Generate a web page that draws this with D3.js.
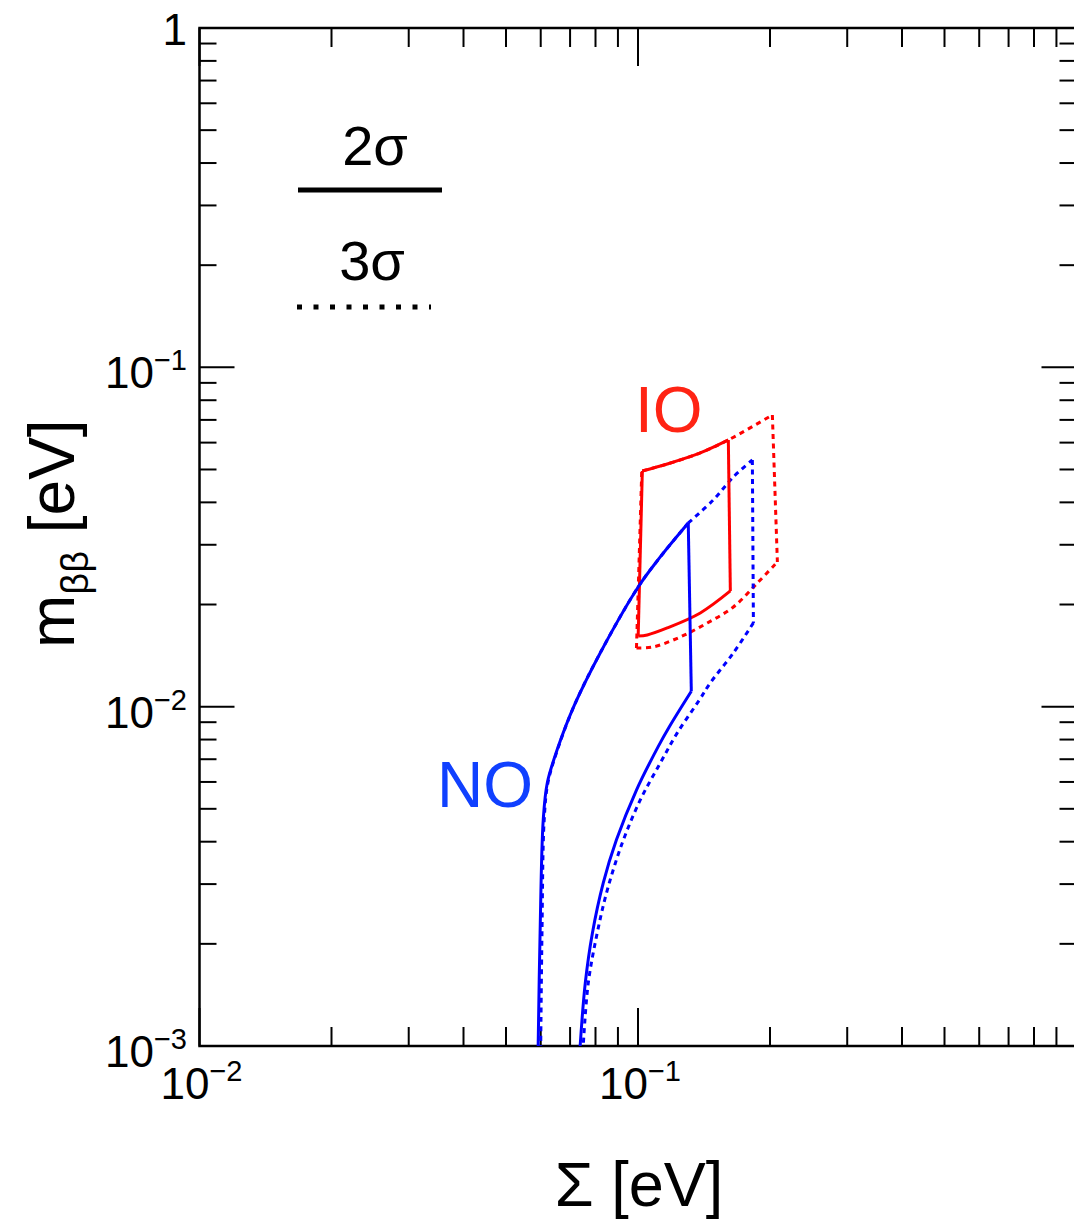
<!DOCTYPE html>
<html>
<meta charset="utf-8">
<style>
  body { margin: 0; background: #fff; }
  svg text { font-family: "Liberation Sans", Arial, Helvetica, sans-serif; }
</style>
<body>
<script src="https://d3js.org/d3.v7.min.js"></script>
<script>
  // ---- data (Σ in eV, mββ in eV) ----

  // NO: upper edge (max mββ), ordered from top corner down to mββ = 1e-3
  const noEdge2Sum = [0.1302, 0.1124, 0.1001, 0.0820, 0.0716, 0.0654, 0.0621, 0.0608, 0.0598, 0.0592];
  const noEdge2Mbb = [0.03478, 0.02762, 0.02253, 0.0144, 0.0101, 0.00746, 0.00596, 0.00464, 0.00215, 0.001];
  const noEdge3Sum = [0.1302, 0.1124, 0.1001, 0.0820, 0.0716, 0.0655, 0.0623, 0.0611, 0.0604, 0.0600];
  const noEdge3Mbb = [0.03478, 0.02762, 0.02253, 0.0144, 0.0101, 0.00746, 0.00596, 0.00464, 0.00215, 0.001];
  // NO 2σ: right edge and lower edge
  const noRight2Sum = [0.1302, 0.1323];
  const noRight2Mbb = [0.03478, 0.0111];
  const noLow2Sum = [0.1323, 0.1178, 0.1111, 0.0992, 0.0893, 0.0833, 0.0787, 0.0758, 0.0738];
  const noLow2Mbb = [0.0111, 0.00871, 0.00761, 0.00568, 0.00405, 0.00302, 0.00215, 0.00153, 0.001];
  // NO 3σ: upper continuation, right edge, lower edge
  const noTop3Sum = [0.1302, 0.1485, 0.1650, 0.1823];
  const noTop3Mbb = [0.03478, 0.04066, 0.04753, 0.05335];
  const noRight3Sum = [0.1823, 0.1833];
  const noRight3Mbb = [0.05335, 0.01765];
  const noLow3Sum = [0.1833, 0.1650, 0.1461, 0.1380, 0.1229, 0.1124, 0.1012, 0.0921, 0.0851, 0.0807, 0.0770, 0.0750];
  const noLow3Mbb = [0.01765, 0.0144, 0.01174, 0.01046, 0.00837, 0.00682, 0.00531, 0.00397, 0.00288, 0.00215, 0.00153, 0.001];

  // IO 2σ box
  const ioTop2Sum = [0.1023, 0.1166, 0.1387, 0.1607];
  const ioTop2Mbb = [0.04951, 0.05190, 0.05594, 0.06109];
  const ioRight2Sum = [0.1607, 0.1624];
  const ioRight2Mbb = [0.06109, 0.02193];
  const ioLow2Sum = [0.1001, 0.1050, 0.1166, 0.1387, 0.1624];
  const ioLow2Mbb = [0.01616, 0.01627, 0.01706, 0.01889, 0.02193];
  const ioLeft2Sum = [0.1001, 0.1023];
  const ioLeft2Mbb = [0.01616, 0.04951];
  // IO 3σ box
  const ioTop3Sum = [0.1023, 0.1166, 0.1387, 0.1607, 0.2025];
  const ioTop3Mbb = [0.04951, 0.05190, 0.05594, 0.06109, 0.07238];
  const ioRight3Sum = [0.2025, 0.2079];
  const ioRight3Mbb = [0.07238, 0.02670];
  const ioLow3Sum = [0.0992, 0.1083, 0.1249, 0.1439, 0.1650, 0.1872, 0.2079];
  const ioLow3Mbb = [0.01489, 0.01500, 0.01605, 0.01765, 0.01967, 0.02315, 0.02670];
  const ioLeft3Sum = [0.0992, 0.1020];
  const ioLeft3Mbb = [0.01489, 0.04951];

  const xLabelVals = [0.01, 0.1];
  const xLabelExp = ["\u22122", "\u22121"];
  const yLabelVals = [0.001, 0.01, 0.1];
  const yLabelExp = ["\u22123", "\u22122", "\u22121"];

  // ---- layout ----
  let width = 1074, height = 1222;
  let plotLeft = 199.5, plotRight = 1076.5, plotTop = 28, plotBottom = 1046;

  let svg = d3.select("body").append("svg")
    .attr("width", width)
    .attr("height", height);

  let x = d3.scaleLog().domain([0.01, 1]).range([plotLeft, plotRight]);
  let y = d3.scaleLog().domain([0.001, 1]).range([plotBottom, plotTop]);

  const isMajor = v => Math.abs(Math.log10(v) - Math.round(Math.log10(v))) < 1e-9;

  // frame
  svg.append("rect")
    .attr("x", plotLeft).attr("y", plotTop)
    .attr("width", plotRight - plotLeft).attr("height", plotBottom - plotTop)
    .attr("fill", "none").attr("stroke", "#000").attr("stroke-width", 2.5);

  // x ticks, bottom and top
  x.ticks().forEach(v => {
    let len = isMajor(v) ? 38 : 19;
    let px = x(v);
    svg.append("line").attr("x1", px).attr("x2", px).attr("y1", plotBottom).attr("y2", plotBottom - len)
      .attr("stroke", "#000").attr("stroke-width", 2);
    svg.append("line").attr("x1", px).attr("x2", px).attr("y1", plotTop).attr("y2", plotTop + len)
      .attr("stroke", "#000").attr("stroke-width", 2);
  });

  // y ticks, left and right
  y.ticks().forEach(v => {
    let len = isMajor(v) ? 35 : 17;
    let py = y(v);
    svg.append("line").attr("x1", plotLeft).attr("x2", plotLeft + len).attr("y1", py).attr("y2", py)
      .attr("stroke", "#000").attr("stroke-width", 2);
    svg.append("line").attr("x1", plotRight).attr("x2", plotRight - len).attr("y1", py).attr("y2", py)
      .attr("stroke", "#000").attr("stroke-width", 2);
  });

  // tick labels
  function powerLabel(sel, exp) {
    sel.append("tspan").text("10");
    sel.append("tspan").attr("dy", -18).attr("font-size", 29).text(exp);
  }

  xLabelVals.forEach((v, i) => {
    let t = svg.append("text")
      .attr("x", x(v) + 2).attr("y", 1099)
      .attr("text-anchor", "middle")
      .attr("font-size", 44);
    powerLabel(t, xLabelExp[i]);
  });

  yLabelVals.forEach((v, i) => {
    let t = svg.append("text")
      .attr("x", 187).attr("y", y(v) + 21)
      .attr("text-anchor", "end")
      .attr("font-size", 44);
    powerLabel(t, yLabelExp[i]);
  });
  svg.append("text")
    .attr("x", 187).attr("y", y(1) + 17)
    .attr("text-anchor", "end")
    .attr("font-size", 44)
    .text("1");

  // axis titles
  svg.append("text")
    .attr("x", 639).attr("y", 1206)
    .attr("text-anchor", "middle")
    .attr("font-size", 63)
    .text("\u03a3 [eV]");

  let yt = svg.append("text")
    .attr("transform", "translate(74,648) rotate(-90)")
    .attr("font-size", 64);
  yt.append("tspan").text("m");
  yt.append("tspan").attr("dy", 14).attr("font-size", 38).text("\u03b2\u03b2");
  yt.append("tspan").attr("dy", -14).text(" [eV]");

  // ---- curves ----
  const smooth = d3.curveCatmullRom.alpha(0.5);

  function seg(sums, mbbs, color, dashed, curve) {
    let pts = sums.map((s, i) => [s, mbbs[i]]);
    let line = d3.line()
      .x(d => x(d[0]))
      .y(d => y(d[1]))
      .curve(curve || d3.curveLinear);
    svg.append("path")
      .datum(pts)
      .attr("d", line)
      .attr("fill", "none")
      .attr("stroke", color)
      .attr("stroke-width", 3)
      .attr("stroke-linejoin", "round")
      .attr("stroke-dasharray", dashed ? "5,4.5" : null);
  }

  const blue = "#0000ff", red = "#ff0000";

  // 3σ dashed first, 2σ solid on top
  seg(ioTop3Sum, ioTop3Mbb, red, true, smooth);
  seg(ioRight3Sum, ioRight3Mbb, red, true);
  seg(ioLow3Sum, ioLow3Mbb, red, true, smooth);
  seg(ioLeft3Sum, ioLeft3Mbb, red, true);

  seg(noEdge3Sum, noEdge3Mbb, blue, true, smooth);
  seg(noTop3Sum, noTop3Mbb, blue, true, smooth);
  seg(noRight3Sum, noRight3Mbb, blue, true);
  seg(noLow3Sum, noLow3Mbb, blue, true, smooth);

  seg(ioTop2Sum, ioTop2Mbb, red, false, smooth);
  seg(ioRight2Sum, ioRight2Mbb, red, false);
  seg(ioLow2Sum, ioLow2Mbb, red, false, smooth);
  seg(ioLeft2Sum, ioLeft2Mbb, red, false);

  seg(noEdge2Sum, noEdge2Mbb, blue, false, smooth);
  seg(noRight2Sum, noRight2Mbb, blue, false);
  seg(noLow2Sum, noLow2Mbb, blue, false, smooth);

  // region labels
  svg.append("text")
    .attr("x", 437).attr("y", 807)
    .attr("font-size", 64)
    .attr("fill", "#1040ff")
    .text("NO");
  svg.append("text")
    .attr("x", 635).attr("y", 432)
    .attr("font-size", 64)
    .attr("fill", "#ff2414")
    .text("IO");

  // legend
  svg.append("text")
    .attr("x", 375).attr("y", 165)
    .attr("text-anchor", "middle")
    .attr("font-size", 56)
    .text("2\u03c3");
  svg.append("line")
    .attr("x1", 298).attr("x2", 442).attr("y1", 190).attr("y2", 190)
    .attr("stroke", "#000").attr("stroke-width", 5);
  svg.append("text")
    .attr("x", 372).attr("y", 280)
    .attr("text-anchor", "middle")
    .attr("font-size", 56)
    .text("3\u03c3");
  svg.append("line")
    .attr("x1", 297).attr("x2", 431).attr("y1", 307).attr("y2", 307)
    .attr("stroke", "#000").attr("stroke-width", 5)
    .attr("stroke-dasharray", "5,11.5");
</script>
</body>
</html>
